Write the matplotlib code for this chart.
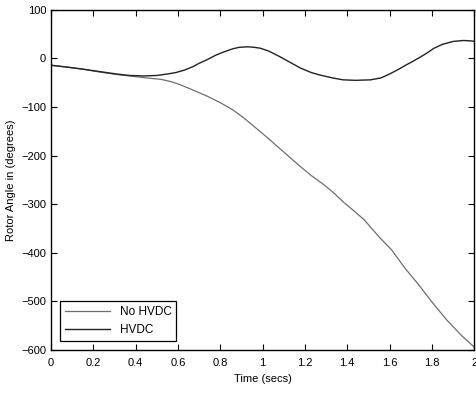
import matplotlib
matplotlib.use("Agg")
import matplotlib.pyplot as plt
import numpy as np

# values
t_hvdc = [0.0, 0.08, 0.15, 0.23, 0.31, 0.37, 0.44, 0.5, 0.55, 0.59, 0.63, 0.67, 0.7, 0.74, 0.78,
          0.82, 0.86, 0.89, 0.93, 0.96, 0.99, 1.03, 1.08, 1.13, 1.18, 1.23, 1.27, 1.33, 1.38,
          1.44, 1.51, 1.56, 1.6, 1.64, 1.68, 1.71, 1.75, 1.78, 1.81, 1.85, 1.9, 1.95, 1.99, 2.0]
a_hvdc = [-14, -18, -22, -27, -32, -35, -36, -35, -32, -29, -24, -17, -10, -2, 7,
          14, 20, 23, 24, 23, 21, 15, 4, -8, -20, -29, -34, -40, -44,
          -45, -44, -40, -32, -23, -13, -6, 4, 12, 21, 29, 35, 37, 36, 35]

t_no = [0.0, 0.08, 0.15, 0.23, 0.31, 0.39, 0.45, 0.52, 0.57, 0.61, 0.66, 0.74, 0.8, 0.86,
        0.91, 0.96, 1.02, 1.08, 1.13, 1.18, 1.23, 1.29, 1.34, 1.38, 1.43, 1.48, 1.55, 1.61,
        1.67, 1.74, 1.8, 1.87, 1.94, 2.0]
a_no = [-14, -18, -22, -28, -33, -37, -40, -43, -48, -54, -63, -78, -91, -106,
        -122, -140, -162, -185, -204, -223, -241, -260, -278, -295, -313, -332, -367, -394,
        -430, -467, -501, -538, -570, -594]

plt.rcParams["font.family"] = ["Liberation Sans", "DejaVu Sans"]
plt.rcParams["font.size"] = 8

fig = plt.figure(figsize=(4.77, 3.95), dpi=100)
ax = fig.add_axes([0.107, 0.114, 0.887, 0.861])

ax.plot(t_no, a_no, color="#6e6e6e", lw=0.9, label="No HVDC")
ax.plot(t_hvdc, a_hvdc, color="#222222", lw=1.0, label="HVDC")

ax.set_xlim(0, 2)
ax.set_ylim(-600, 100)
ax.set_xticks(np.arange(0, 2.01, 0.2))
ax.set_xticklabels(["0", "0.2", "0.4", "0.6", "0.8", "1", "1.2", "1.4", "1.6", "1.8", "2"])
ax.set_yticks(np.arange(-600, 101, 100))
ax.tick_params(direction="in", top=True, right=True, length=4, width=0.8)
ax.tick_params(axis="x", pad=6)
for s in ax.spines.values():
    s.set_linewidth(1.0)

ax.set_xlabel("Time (secs)", labelpad=4)
ax.set_ylabel("Rotor Angle in (degrees)", labelpad=4)

leg = ax.legend(loc="lower left", fancybox=False, edgecolor="black", framealpha=1,
                handlelength=3.8, borderaxespad=0.8, fontsize=8.5)
leg.get_frame().set_linewidth(0.9)

fig.savefig("out.png", dpi=100)
